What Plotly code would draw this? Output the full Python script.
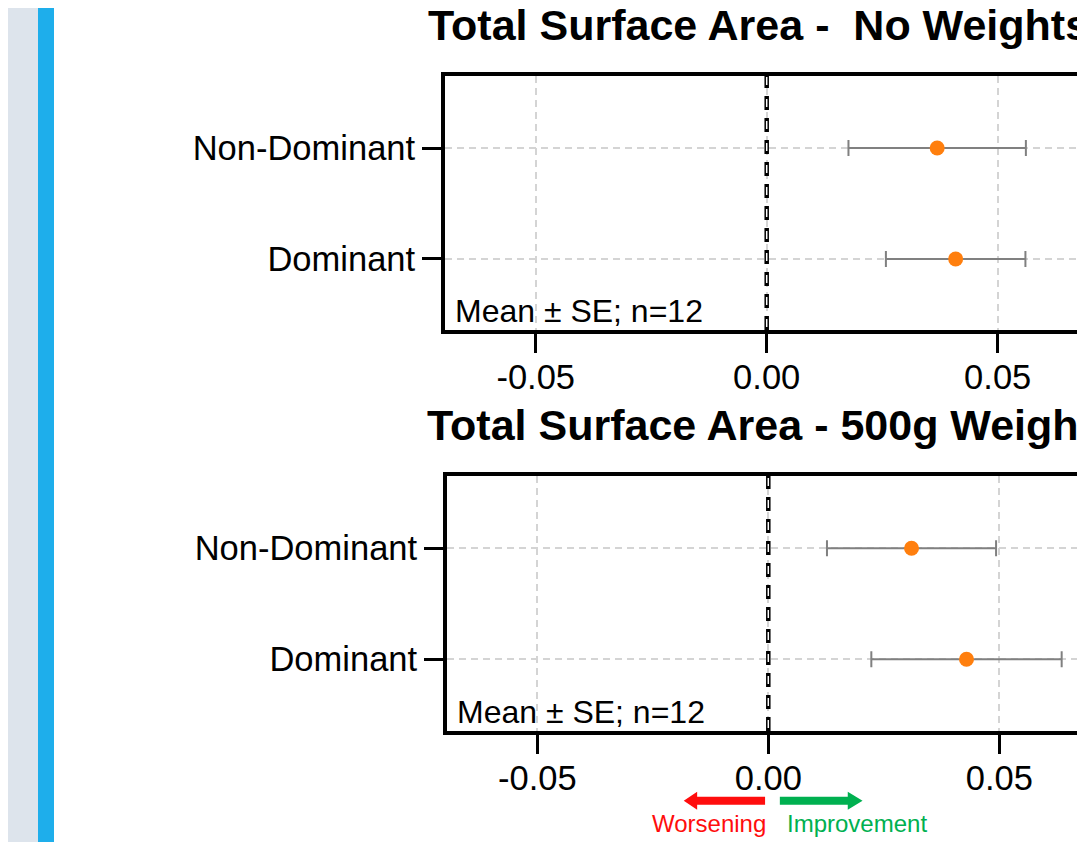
import plotly.graph_objects as go

# ---------------- data ----------------
categories = ["Dominant", "Non-Dominant"]
cat_pos = [0, 1]
panel_titles = ["Total Surface Area -  No Weights", "Total Surface Area - 500g Weights"]
means_no_weights = [0.0409, 0.0369]
se_no_weights = [0.0151, 0.0192]
means_500g = [0.0429, 0.0310]
se_500g = [0.0206, 0.0183]
x_tickvals = [-0.05, 0.0, 0.05, 0.10]
x_ticktext = ["-0.05", "0.00", "0.05", "0.10"]
note_text = "Mean ± SE; n=12"
worse_label = "Worsening"
better_label = "Improvement"

# ---------------- layout geometry (page pixels, body margin compensated) ----------------
OFF = 8
W, H = 1085 - OFF, 842 - OFF
FONT = "Liberation Sans, Arial, Helvetica, sans-serif"


def px(x):
    return (x - OFF) / W


def py(y):
    return 1 - (y - OFF) / H


PX_PER_UNIT = 4620
panels = [
    dict(left=445, zero=766.7, top=76, bottom=330, yr=[-0.640, 1.649],
         means=means_no_weights, se=se_no_weights, title=panel_titles[0], title_x=426, title_y=25),
    dict(left=447, zero=768.3, top=476, bottom=731, yr=[-0.646, 1.651],
         means=means_500g, se=se_500g, title=panel_titles[1], title_x=425, title_y=425),
]

fig = go.Figure()
shapes = []
annotations = []

# left decorative strips
shapes.append(dict(type="rect", xref="paper", yref="paper", x0=px(-10), x1=px(38), y0=-0.05, y1=1.05,
                   fillcolor="#dde4ec", line=dict(width=0), layer="below"))
shapes.append(dict(type="rect", xref="paper", yref="paper", x0=px(38), x1=px(54), y0=-0.05, y1=1.05,
                   fillcolor="#1eaeeb", line=dict(width=0), layer="below"))

for i, p in enumerate(panels, start=1):
    xa = "x" if i == 1 else f"x{i}"
    ya = "y" if i == 1 else f"y{i}"
    fig.add_trace(go.Scatter(
        x=p["means"], y=cat_pos, mode="markers",
        marker=dict(color="#ff7f0e", size=15, line=dict(width=0)),
        error_x=dict(type="data", array=p["se"], color="#808080", thickness=2, width=8),
        xaxis=xa, yaxis=ya, showlegend=False,
    ))
    axis_common = dict(
        showline=True, linecolor="black", linewidth=4,
        ticks="outside", tickwidth=3, tickcolor="black",
        tickfont=dict(family=FONT, size=34.5, color="black"),
        showgrid=True, gridcolor="#d4d4d4", gridwidth=1.5, griddash="7px,5px",
        zeroline=False, automargin=False,
    )
    xr = [(p["left"] - p["zero"]) / PX_PER_UNIT, (1085 - p["zero"]) / PX_PER_UNIT]
    fig.update_layout(**{
        ("xaxis" if i == 1 else f"xaxis{i}"): dict(
            domain=[px(p["left"]), 1], range=xr, anchor=ya,
            tickvals=x_tickvals, ticktext=x_ticktext, ticklen=19, mirror=True,
            ticklabelstandoff=-5,
            **axis_common),
        ("yaxis" if i == 1 else f"yaxis{i}"): dict(
            domain=[py(p["bottom"]), py(p["top"])], range=p["yr"], anchor=xa,
            tickvals=cat_pos, ticktext=categories, ticklen=19, mirror=False,
            **axis_common),
    })
    # zero reference line (black dashed capsule look)
    shapes.append(dict(type="line", xref=xa, yref=f"{ya} domain", x0=0, x1=0, y0=0, y1=1,
                       line=dict(color="black", width=4.5, dash="14px,8px"), layer="above"))
    shapes.append(dict(type="line", xref=xa, yref=f"{ya} domain", x0=0, x1=0, y0=0, y1=1,
                       line=dict(color="white", width=1.5, dash="0px,3px,8px,11px"), layer="above"))
    # panel title
    annotations.append(dict(text=f"<b>{p['title']}</b>", xref="paper", yref="paper",
                            x=px(p["title_x"]), xanchor="left",
                            y=py(p["title_y"]), yanchor="middle", showarrow=False,
                            font=dict(family=FONT, size=43, color="black")))
    # note
    annotations.append(dict(text=note_text, xref="paper", yref="paper",
                            x=px(p["left"] + 8), xanchor="left",
                            y=py(p["bottom"] - 19), yanchor="middle", showarrow=False,
                            font=dict(family=FONT, size=32, color="black")))

# direction arrows under bottom panel
red, green = "#ff0d0d", "#00b050"
ay = 800.7
shaft = 4
head_h = 9
shapes.append(dict(type="path", xref="x2", yref="paper",
                   path=(f"M -0.0007 {py(ay - shaft)} L -0.0154 {py(ay - shaft)} L -0.0154 {py(ay - head_h)} "
                         f"L -0.0183 {py(ay)} L -0.0154 {py(ay + head_h)} L -0.0154 {py(ay + shaft)} "
                         f"L -0.0007 {py(ay + shaft)} Z"),
                   fillcolor=red, line=dict(width=0)))
shapes.append(dict(type="path", xref="x2", yref="paper",
                   path=(f"M 0.0025 {py(ay - shaft)} L 0.0172 {py(ay - shaft)} L 0.0172 {py(ay - head_h)} "
                         f"L 0.0204 {py(ay)} L 0.0172 {py(ay + head_h)} L 0.0172 {py(ay + shaft)} "
                         f"L 0.0025 {py(ay + shaft)} Z"),
                   fillcolor=green, line=dict(width=0)))
annotations.append(dict(text=worse_label, xref="x2", yref="paper", x=-0.0128, y=py(823),
                        xanchor="center", yanchor="middle", showarrow=False,
                        font=dict(family=FONT, size=24, color=red)))
annotations.append(dict(text=better_label, xref="x2", yref="paper", x=0.0192, y=py(823),
                        xanchor="center", yanchor="middle", showarrow=False,
                        font=dict(family=FONT, size=24, color=green)))

fig.update_layout(
    width=W, height=H, autosize=False,
    margin=dict(l=0, r=0, t=0, b=0, pad=0),
    paper_bgcolor="white", plot_bgcolor="white",
    shapes=shapes, annotations=annotations,
    font=dict(family=FONT, color="black"),
)

fig.write_html("out.html")
